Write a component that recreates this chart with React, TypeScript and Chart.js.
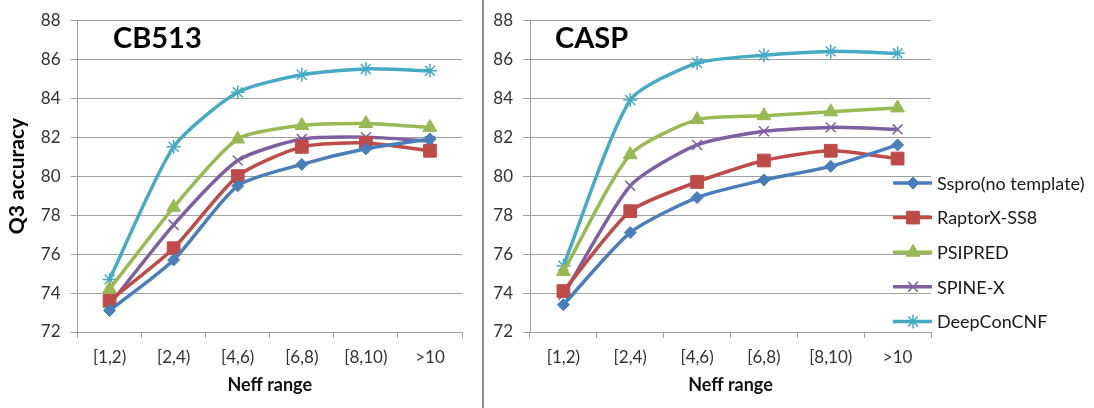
import React, { useEffect, useRef } from "react";
import { Chart, registerables } from "chart.js";
import { drawPoint } from "chart.js/helpers";

Chart.register(...registerables);

const categories = ["[1,2)", "[2,4)", "[4,6)", "[6,8)", "[8,10)", ">10"];
const yTicks = [72, 74, 76, 78, 80, 82, 84, 86, 88];

const seriesNames = ["Sspro(no template)", "RaptorX-SS8", "PSIPRED", "SPINE-X", "DeepConCNF"];

// CB513 panel
const cbSspro = [73.1, 75.7, 79.5, 80.6, 81.4, 81.9];
const cbRaptor = [73.6, 76.3, 80.0, 81.5, 81.7, 81.3];
const cbPsipred = [74.2, 78.4, 81.9, 82.6, 82.7, 82.5];
const cbSpine = [73.4, 77.5, 80.8, 81.9, 82.0, 81.8];
const cbDeep = [74.7, 81.5, 84.3, 85.2, 85.5, 85.4];

// CASP panel
const caspSspro = [73.4, 77.1, 78.9, 79.8, 80.5, 81.6];
const caspRaptor = [74.1, 78.2, 79.7, 80.8, 81.3, 80.9];
const caspPsipred = [75.1, 81.1, 82.9, 83.1, 83.3, 83.5];
const caspSpine = [73.9, 79.5, 81.6, 82.3, 82.5, 82.4];
const caspDeep = [75.4, 83.9, 85.8, 86.2, 86.4, 86.3];

const styles = [
  { color: "#4A7EBB", point: "rectRot", radius: 6, pw: 1 },
  { color: "#BE4B48", point: "rect", radius: 9, pw: 1 },
  { color: "#98B954", point: "triangle", radius: 8, pw: 1 },
  { color: "#7D60A0", point: "crossRot", radius: 7, pw: 1.5 },
  { color: "#46AAC5", point: "star", radius: 7, pw: 1.5 },
];

const FONT = "Lato, 'Noto Sans', sans-serif";

const headingPlugin = {
  id: "heading",
  afterDraw(chart: any, _args: any, opts: any) {
    if (!opts || !opts.text) return;
    const ctx = chart.ctx;
    ctx.save();
    ctx.font = `bold 29px ${FONT}`;
    ctx.fillStyle = "#000";
    ctx.textBaseline = "alphabetic";
    ctx.textAlign = "left";
    ctx.fillText(opts.text, opts.x, opts.y);
    ctx.restore();
  },
};

const customLegendPlugin = {
  id: "customLegend",
  afterDraw(chart: any, _args: any, opts: any) {
    if (!opts || !opts.show) return;
    const ctx = chart.ctx;
    const x0 = opts.x;
    chart.data.datasets.forEach((ds: any, i: number) => {
      const y = opts.y + i * opts.gap;
      ctx.save();
      ctx.strokeStyle = ds.borderColor;
      ctx.lineWidth = 3.5;
      ctx.beginPath();
      ctx.moveTo(x0, y);
      ctx.lineTo(x0 + 39, y);
      ctx.stroke();
      ctx.fillStyle = ds.pointBackgroundColor;
      ctx.strokeStyle = ds.pointBorderColor;
      ctx.lineWidth = ds.pointBorderWidth;
      drawPoint(ctx, { pointStyle: ds.pointStyle, radius: ds.pointRadius, borderWidth: ds.pointBorderWidth, rotation: 0 }, x0 + 20, y);
      ctx.restore();
      ctx.save();
      ctx.font = `18px ${FONT}`;
      ctx.fillStyle = "#1a1a1a";
      ctx.textBaseline = "middle";
      ctx.textAlign = "left";
      ctx.fillText(ds.label, x0 + 44, y + 1);
      ctx.restore();
    });
  },
};

function makeDatasets(series: number[][]) {
  return series.map((vals, i) => ({
    label: seriesNames[i],
    data: vals,
    borderColor: styles[i].color,
    backgroundColor: styles[i].color,
    pointBackgroundColor: styles[i].color,
    pointBorderColor: styles[i].color,
    pointStyle: styles[i].point,
    pointRadius: styles[i].radius,
    pointBorderWidth: styles[i].pw,
    borderWidth: 3.5,
    tension: 0.22,
    fill: false,
  }));
}

function makeConfig(series: number[][], p: any) {
  return {
    type: "line" as const,
    data: { labels: categories, datasets: makeDatasets(series) },
    plugins: [headingPlugin, customLegendPlugin],
    options: {
      responsive: false,
      animation: false as const,
      layout: { padding: { top: 18, right: p.padRight, bottom: 0, left: 0 } },
      plugins: {
        legend: { display: false },
        tooltip: { enabled: false },
        heading: { text: p.heading, x: p.headingX, y: 48 },
        customLegend: p.legend,
      },
      scales: {
        x: {
          type: "category" as const,
          offset: true,
          afterFit: (s: any) => {
            s.height = 76;
          },
          grid: {
            offset: true,
            drawOnChartArea: false,
            drawTicks: true,
            tickLength: 6,
            color: "#A0A0A0",
          },
          border: { display: true, color: "#A0A0A0", width: 1 },
          ticks: {
            color: "#333",
            font: { family: FONT, size: 17 },
            padding: 9,
            maxRotation: 0,
          },
          title: {
            display: true,
            text: "Neff range",
            color: "#111",
            font: { family: FONT, size: 18, weight: "bold" as const },
            padding: { top: 0, bottom: 12 },
          },
        },
        y: {
          min: 72,
          max: 88,
          afterFit: (s: any) => {
            s.width = p.yWidth;
          },
          afterBuildTicks: (s: any) => {
            s.ticks = yTicks.map((v) => ({ value: v }));
          },
          grid: {
            color: "#A0A0A0",
            tickLength: 7,
            drawTicks: true,
          },
          border: { display: true, color: "#A0A0A0", width: 1 },
          ticks: {
            color: "#333",
            font: { family: FONT, size: 17 },
            padding: 10,
          },
          title: {
            display: p.yTitle,
            text: "Q3 accuracy",
            color: "#000",
            font: { family: FONT, size: 21, weight: "bold" as const },
            padding: { top: 5, bottom: 0 },
          },
        },
      },
    },
  };
}

function Panel(props: { series: number[][]; p: any; left: number; width: number }) {
  const ref = useRef<HTMLCanvasElement>(null);
  useEffect(() => {
    if (!ref.current) return;
    const chart = new Chart(ref.current, makeConfig(props.series, props.p) as any);
    return () => chart.destroy();
  }, []);
  return (
    <canvas
      ref={ref}
      width={props.width}
      height={408}
      style={{ position: "absolute", left: props.left, top: 0, width: props.width, height: 408 }}
    />
  );
}

export default function App() {
  return (
    <div style={{ position: "absolute", left: 0, top: 0, width: 1094, height: 408, background: "#fff" }}>
      <Panel
        series={[cbSspro, cbRaptor, cbPsipred, cbSpine, cbDeep]}
        left={0}
        width={482}
        p={{ padRight: 20, yWidth: 77.5, yTitle: true, heading: "CB513", headingX: 113, legend: { show: false } }}
      />
      <div style={{ position: "absolute", left: 482, top: 0, width: 2, height: 408, background: "#8c8c8c" }} />
      <Panel
        series={[caspSspro, caspRaptor, caspPsipred, caspSpine, caspDeep]}
        left={484}
        width={610}
        p={{ padRight: 163, yWidth: 46, yTitle: false, heading: "CASP", headingX: 71, legend: { show: true, x: 409, y: 183, gap: 34.6 } }}
      />
    </div>
  );
}
